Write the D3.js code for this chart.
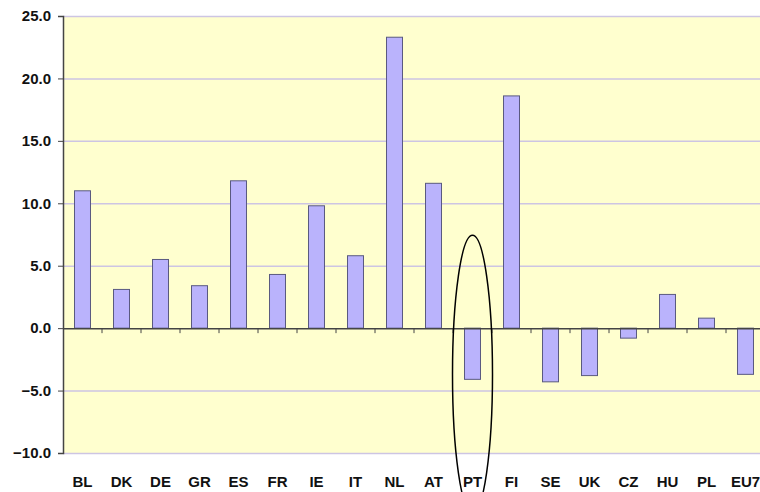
<!DOCTYPE html>
<html>
<head>
<meta charset="utf-8">
<script src="https://cdn.jsdelivr.net/npm/d3@7"></script>
<style>
  body { margin: 0; background: #fff; }
  svg { display: block; }
</style>
</head>
<body>
<svg id="chart" width="760" height="492"></svg>
<script>
var countries = ["BL", "DK", "DE", "GR", "ES", "FR", "IE", "IT", "NL", "AT", "PT", "FI", "SE", "UK", "CZ", "HU", "PL", "EU7"];
var values = [11.0, 3.1, 5.5, 3.4, 11.8, 4.3, 9.8, 5.8, 23.3, 11.6, -4.1, 18.6, -4.3, -3.8, -0.8, 2.7, 0.8, -3.7];
var yTicks = [25, 20, 15, 10, 5, 0, -5, -10];
var highlight = "PT";

var data = countries.map(function (c, i) { return { name: c, value: values[i] }; });

var svg = d3.select("#chart");
var plotLeft = 63, plotTop = 16, plotBottom = 453;
var band = 39;

var x = d3.scaleBand()
  .domain(countries)
  .range([plotLeft, plotLeft + band * countries.length])
  .paddingInner(0.59)
  .paddingOuter(0.295);

var y = d3.scaleLinear()
  .domain([-10, 25])
  .range([plotBottom, plotTop]);

// plot area
svg.append("rect")
  .attr("x", plotLeft)
  .attr("y", y(25))
  .attr("width", band * countries.length)
  .attr("height", y(-10) - y(25))
  .attr("fill", "#ffffcf");

// gridlines
svg.append("g")
  .selectAll("line")
  .data(yTicks.filter(function (t) { return t !== 0; }))
  .enter()
  .append("line")
  .attr("x1", plotLeft)
  .attr("x2", 760)
  .attr("y1", function (d) { return y(d) + 0.5; })
  .attr("y2", function (d) { return y(d) + 0.5; })
  .attr("stroke", "#cdc5e3")
  .attr("stroke-width", 1.5);

// bars
svg.append("g")
  .selectAll("rect")
  .data(data)
  .enter()
  .append("rect")
  .attr("x", function (d) { return x(d.name); })
  .attr("width", x.bandwidth())
  .attr("y", function (d) { return y(Math.max(0, d.value)); })
  .attr("height", function (d) { return Math.abs(y(d.value) - y(0)); })
  .attr("fill", "#bab3fc")
  .attr("stroke", "#5a5a80")
  .attr("stroke-width", 1);

// y axis
var yAxis = d3.axisLeft(y)
  .tickValues(yTicks)
  .tickSize(5)
  .tickPadding(7)
  .tickFormat(d3.format(".1f"));
var gy = svg.append("g")
  .attr("transform", "translate(" + plotLeft + ",0)")
  .call(yAxis);
gy.select(".domain").attr("stroke", "#444").attr("stroke-width", 1.5);
gy.selectAll(".tick line").attr("stroke", "#444");
gy.selectAll("text")
  .attr("font-family", "Arial, 'Liberation Sans', sans-serif")
  .attr("font-weight", "bold")
  .attr("font-size", "15px")
  .attr("fill", "#111");

// zero line with category ticks
var xAxis = d3.axisBottom(x)
  .tickSize(0)
  .tickFormat("");
var gx = svg.append("g")
  .attr("transform", "translate(0," + y(0) + ")")
  .call(xAxis);
gx.select(".domain").attr("stroke", "#444").attr("stroke-width", 1.5);
gx.selectAll(".sep")
  .data(countries.slice(1))
  .enter()
  .append("line")
  .attr("class", "sep")
  .attr("x1", function (d) { return x(d) - x.step() * x.paddingInner() / 2; })
  .attr("x2", function (d) { return x(d) - x.step() * x.paddingInner() / 2; })
  .attr("y1", 0)
  .attr("y2", 5)
  .attr("stroke", "#444");

// category labels
svg.append("g")
  .selectAll("text")
  .data(countries)
  .enter()
  .append("text")
  .attr("x", function (d) { return x(d) + x.bandwidth() / 2; })
  .attr("y", 487)
  .attr("text-anchor", "middle")
  .attr("font-family", "Arial, 'Liberation Sans', sans-serif")
  .attr("font-weight", "bold")
  .attr("font-size", "15px")
  .attr("fill", "#111")
  .text(function (d) { return d; });

// highlight ellipse
svg.append("ellipse")
  .attr("cx", x(highlight) + x.bandwidth() / 2)
  .attr("cy", y(-3.7))
  .attr("rx", 20)
  .attr("ry", 139)
  .attr("fill", "none")
  .attr("stroke", "#000")
  .attr("stroke-width", 1.5);
</script>
</body>
</html>
